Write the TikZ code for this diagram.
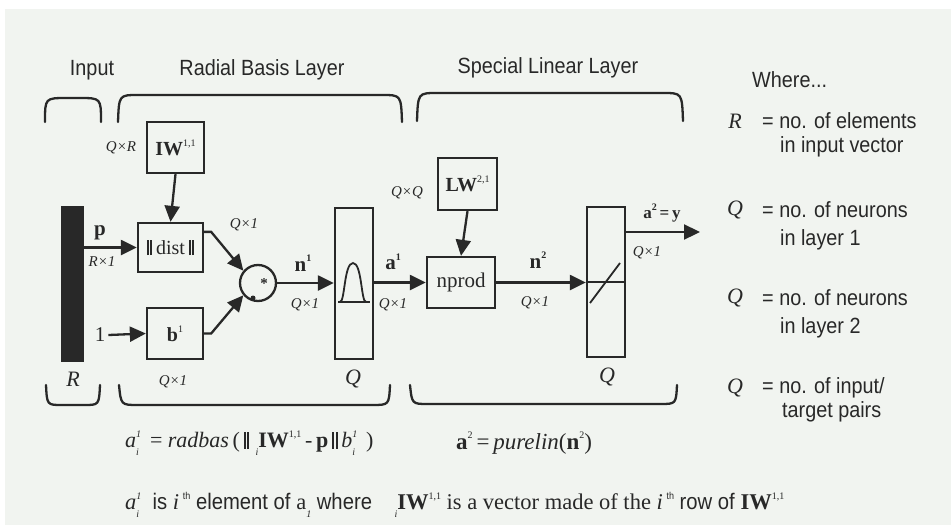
\documentclass[tikz,border=0pt]{standalone}
\usepackage{fontspec}
\setmainfont{Liberation Serif}
\newfontfamily\condsans[FakeStretch=0.9]{Liberation Sans}
\usetikzlibrary{arrows.meta,calc}
\definecolor{ink}{RGB}{40,40,40}
\definecolor{bg}{RGB}{241,244,240}
\newcommand\mysup[1]{\raisebox{.45em}{\fontsize{10}{10}\selectfont #1}}
\newcommand\mysubsup[2]{\rlap{\raisebox{-.35em}{\fontsize{10}{10}\selectfont\itshape #1}}\raisebox{.45em}{\fontsize{10}{10}\selectfont\itshape #2}}
\newcommand\leftsub[1]{\raisebox{-.35em}{\fontsize{10}{10}\selectfont\itshape #1}}
\newcommand\dbar{\rule[-.05em]{.09em}{.75em}\kern.08em\rule[-.05em]{.09em}{.75em}}
\begin{document}
\begin{tikzpicture}[x=1pt,y=-1pt,
  ln/.style={draw=ink,line width=2.3pt},
  arr/.style={ln,-{Triangle[length=16pt,width=15pt]}},
  blk/.style={draw=ink,line width=2.3pt,inner sep=0pt,text=ink},
  brace/.style={draw=ink,line width=2.3pt,line cap=round},
  title/.style={font=\condsans\fontsize{22}{22}\selectfont,text=ink},
  legend/.style={font=\condsans\fontsize{22}{22}\selectfont,text=ink,anchor=west,inner sep=0pt},
  dimlab/.style={font=\itshape\fontsize{15}{15}\selectfont,text=ink,inner sep=0pt},
  biglab/.style={font=\itshape\fontsize{22}{22}\selectfont,text=ink,inner sep=0pt},
  sig/.style={font=\bfseries\fontsize{21}{21}\selectfont,text=ink,inner sep=0pt},
  boxtxt/.style={font=\fontsize{20}{20}\selectfont},
  formula/.style={anchor=west,inner sep=0pt,text=ink}]
\useasboundingbox (0,0) rectangle (951,525);
\fill[white] (0,0) rectangle (951,525);
\fill[bg] (5,9) rectangle (951,525);

% titles
\node[title] (tin) at (92,70) {Input};
\node[title] (trb) at (262,70) {Radial Basis Layer};
\node[title] (tsl) at (548,68) {Special Linear Layer};

% top braces
\draw[brace] (45,122) .. controls (45,98) .. (67,98) -- (79,98) .. controls (101,98) .. (101,122);
\draw[brace] (118,122) .. controls (119,95) .. (138,95) -- (382,95) .. controls (401,95) .. (402,122);
\draw[brace] (417,121) .. controls (418,93) .. (437,93) -- (663,93) .. controls (682,93) .. (683,121);
% bottom braces
\draw[brace] (46,385) .. controls (47,405) .. (62,405) -- (84,405) .. controls (99,405) .. (100,385);
\draw[brace] (119,385) .. controls (121,405) .. (138,405) -- (372,405) .. controls (389,405) .. (390,385);
\draw[brace] (410,385) .. controls (412,404) .. (428,404) -- (660,404) .. controls (676,404) .. (677,385);

% blocks
\node[blk,fill=ink,minimum width=21pt,minimum height=153pt] (bar) at (72.5,284) {};
\node[blk,minimum width=57pt,minimum height=51pt,boxtxt] (iw) at (175.5,147.5) {\textbf{IW}\mysup{1,1}};
\node[blk,minimum width=65pt,minimum height=49pt,boxtxt] (dist) at (170.5,247.5) {\dbar\kern.2em dist\kern.2em\dbar};
\node[blk,minimum width=56pt,minimum height=51pt,boxtxt] (b) at (175,333.5) {\textbf{b}\mysup{1}};
\node[blk,circle,minimum size=36pt] (mult) at (258,283) {};
\node[blk,minimum width=38pt,minimum height=151pt] (rb) at (354,283.5) {};
\node[blk,minimum width=68pt,minimum height=51pt,boxtxt,font=\fontsize{21}{21}\selectfont] (nprod) at (461,282.5) {nprod};
\node[blk,minimum width=59pt,minimum height=52pt,boxtxt] (lw) at (467.5,184) {\textbf{LW}\mysup{2,1}};
\node[blk,minimum width=38pt,minimum height=150pt] (pl) at (606,282) {};
\coordinate (out) at (700,232);

% icons inside blocks
\fill[ink] (253,298) circle (2.5pt);
\node[font=\bfseries\fontsize{15}{15}\selectfont,text=ink,inner sep=0pt] (star) at (264,284) {*};
\draw[ln,line width=1.8pt] (338,302) -- (370,302);
\draw[ln,line width=1.8pt] (340,302) .. controls (345,302) and (344,263) .. (353,263) .. controls (362,263) and (361,302) .. (366,302);
\draw[ln,line width=1.8pt] (pl.west) -- (pl.east);
\draw[ln,line width=1.8pt] (590,303) -- (620,263);

% labels
\node[sig] (plab) at (100,233) {p};
\node[dimlab] (pdim) at (102,262) {R×1};
\node[dimlab] (iwdim) at (121,148) {Q×R};
\node[dimlab] (ddim) at (244,225) {Q×1};
\node[font=\fontsize{21}{21}\selectfont,text=ink,inner sep=0pt] (one) at (100,335) {1};
\node[dimlab] (bdim) at (173,382) {Q×1};
\node[biglab] (rlab) at (73,379) {R};
\node[sig] (n1) at (303,263) {n\mysup{1}};
\node[dimlab] (n1dim) at (305,305) {Q×1};
\node[biglab] (q1) at (353,379) {Q};
\node[sig] (a1) at (393,262) {a\mysup{1}};
\node[dimlab] (a1dim) at (393,305) {Q×1};
\node[dimlab] (lwdim) at (407,193) {Q×Q};
\node[sig] (n2) at (538,260) {n\mysup{2}};
\node[dimlab] (n2dim) at (535,303) {Q×1};
\node[biglab] (q2) at (607,377) {Q};
\node[sig,font=\bfseries\fontsize{17}{17}\selectfont] (a2) at (662,213) {a\mysup{2}\,=\,y};
\node[dimlab] (a2dim) at (647,253) {Q×1};

% connectors
\draw[arr] (bar.east |- dist.west) -- (dist.west);
\draw[arr] (one.east) ++(3,0) -- (b.west);
\draw[arr] (iw.south) -- (dist.north);
\draw[arr] ($(dist.north east)+(0,10)$) -- ++(7,0) -- (mult.140);
\draw[arr] (b.east) -- ++(7,0) -- (mult.220);
\draw[arr] (mult.east) -- (rb.west |- mult.east);
\draw[arr] (rb.east |- nprod.west) -- (nprod.west);
\draw[arr] (lw.south) -- (nprod.north);
\draw[arr] (nprod.east) -- (pl.west |- nprod.east);
\draw[arr] (pl.east |- out) -- (out);

% legend
\node[legend] (where) at (752,80) {Where...};
\node[biglab] (lr) at (735,121) {R};
\node[legend] (lr1) at (762,121) {= no. of elements};
\node[legend] (lr2) at (780,147) {in input vector};
\node[biglab] (lq1) at (735,210) {Q};
\node[legend] (lq11) at (762,210) {= no. of neurons};
\node[legend] (lq12) at (780,240) {in layer 1};
\node[biglab] (lq2) at (735,298) {Q};
\node[legend] (lq21) at (762,298) {= no. of neurons};
\node[legend] (lq22) at (780,328) {in layer 2};
\node[biglab] (lq3) at (735,388) {Q};
\node[legend] (lq31) at (762,388) {= no. of input/};
\node[legend] (lq32) at (782,412) {target pairs};

% formulas
\node[formula,font=\fontsize{22}{22}\selectfont] (f1) at (125,443)
  {\textit{a}\mysubsup{i}{1}\kern.4em = \textit{radbas}\,(\,\dbar\;\leftsub{i}\textbf{IW}\mysup{1,1}\,-\,\textbf{p}\,\dbar\,\textit{b}\mysubsup{i}{1}\kern.4em)};
\node[formula,font=\fontsize{23}{23}\selectfont] (f2) at (456,443)
  {\textbf{a}\mysup{2}\,=\,\textit{purelin}(\textbf{n}\mysup{2})};
\node[formula,font=\fontsize{22.5}{22.5}\selectfont] (f3) at (125,505)
  {\textit{a}\mysubsup{i}{1}\kern.5em{\condsans is }\textit{i}\,{\condsans\mysup{th} element of }a\leftsub{1}{\condsans\ where}\kern1em\leftsub{i}\textbf{IW}\mysup{1,1} is a vector made of the \textit{i}\,{\condsans\mysup{th} row of }\textbf{IW}\mysup{1,1}};
\end{tikzpicture}
\end{document}
